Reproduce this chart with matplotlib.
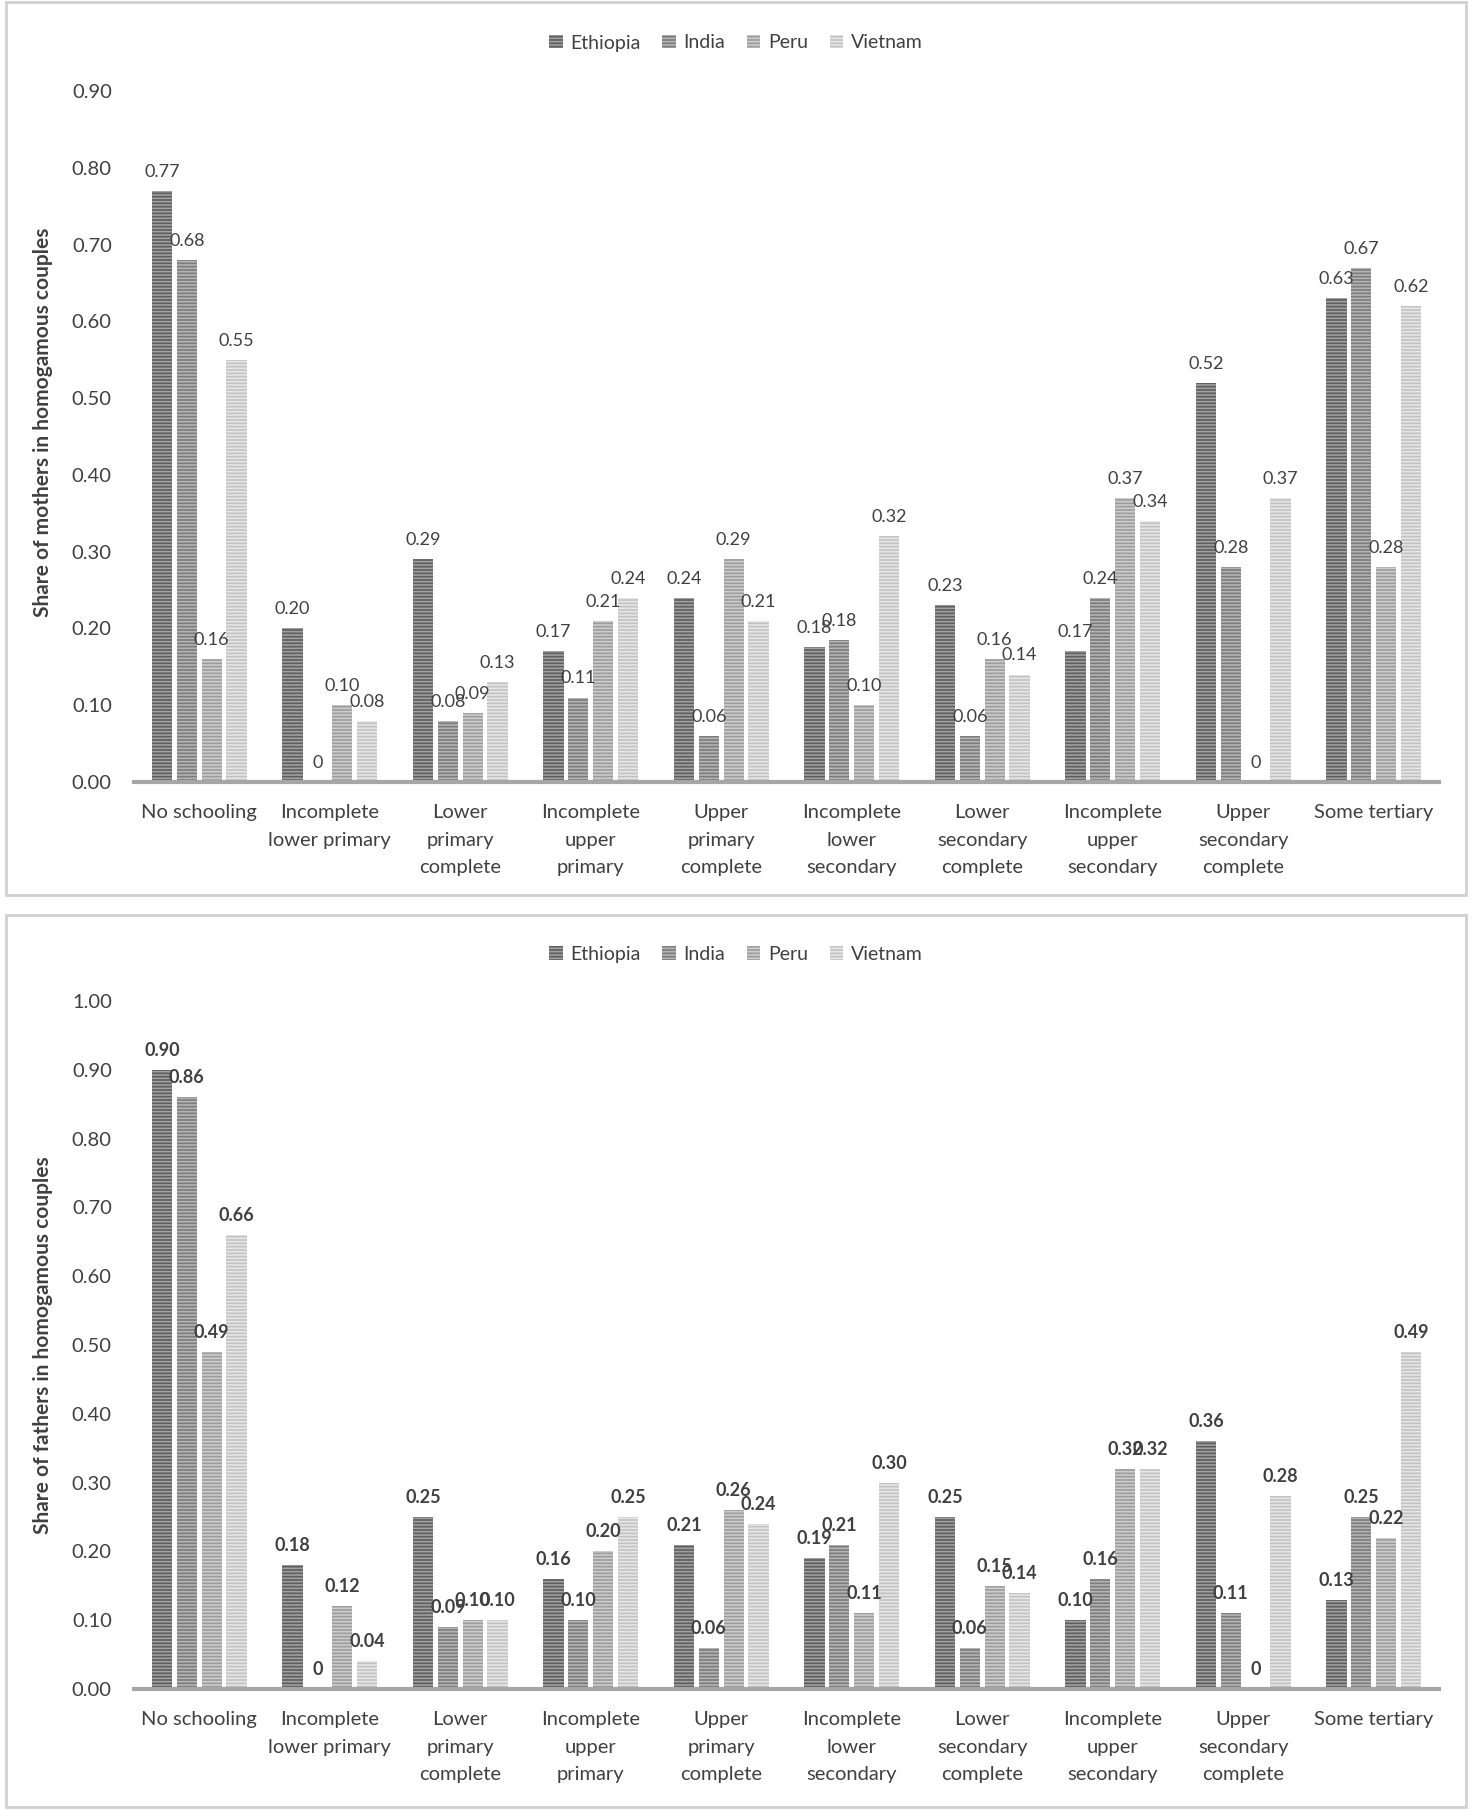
import numpy as np
import matplotlib
matplotlib.use("Agg")
import matplotlib.pyplot as plt
from matplotlib.patches import Rectangle

plt.rcParams["font.family"] = ["Lato", "DejaVu Sans"]
plt.rcParams["hatch.linewidth"] = 1.2

# Categories (education levels)
categories = ["No schooling", "Incomplete\nlower primary", "Lower\nprimary\ncomplete",
              "Incomplete\nupper\nprimary", "Upper\nprimary\ncomplete",
              "Incomplete\nlower\nsecondary", "Lower\nsecondary\ncomplete",
              "Incomplete\nupper\nsecondary", "Upper\nsecondary\ncomplete", "Some tertiary"]
countries = ["Ethiopia", "India", "Peru", "Vietnam"]

# Share of mothers in homogamous couples
mothers_ethiopia = [0.77, 0.20, 0.29, 0.17, 0.24, 0.1752, 0.23, 0.17, 0.52, 0.63]
mothers_india = [0.68, 0.00, 0.08, 0.11, 0.06, 0.1848, 0.06, 0.24, 0.28, 0.67]
mothers_peru = [0.16, 0.10, 0.09, 0.21, 0.29, 0.10, 0.16, 0.37, 0.00, 0.28]
mothers_vietnam = [0.55, 0.08, 0.13, 0.24, 0.21, 0.32, 0.14, 0.34, 0.37, 0.62]

# Share of fathers in homogamous couples
fathers_ethiopia = [0.90, 0.18, 0.25, 0.16, 0.21, 0.19, 0.25, 0.10, 0.36, 0.13]
fathers_india = [0.86, 0.00, 0.09, 0.10, 0.06, 0.21, 0.06, 0.16, 0.11, 0.25]
fathers_peru = [0.49, 0.12, 0.10, 0.20, 0.26, 0.11, 0.15, 0.32, 0.00, 0.22]
fathers_vietnam = [0.66, 0.04, 0.10, 0.25, 0.24, 0.30, 0.14, 0.32, 0.28, 0.49]

face_colors = ["#5e5e5e", "#7c7c7c", "#9c9c9c", "#c2c2c2"]
stripe_colors = ["#a0a0a0", "#b4b4b4", "#cccccc", "#e6e6e6"]
text_color = "#404040"

fig = plt.figure(figsize=(14.72, 18.10), dpi=100)

# panel borders
for y0, h in [(1 - 895 / 1810, 893 / 1810), (1 - 1807 / 1810, 892 / 1810)]:
    fig.add_artist(Rectangle((6 / 1472, y0), 1460 / 1472, h, transform=fig.transFigure,
                             fill=False, edgecolor="#d0d0d0", linewidth=2))


def draw_panel(rect, series, ymax, ylabel, bold_labels, legend_y, ylab_y):
    ax = fig.add_axes(rect)
    x = np.arange(len(categories))
    width = 0.155
    step = 0.19
    for i, (name, vals) in enumerate(zip(countries, series)):
        pos = x + (i - 1.5) * step
        ax.bar(pos, vals, width, color=face_colors[i], edgecolor=stripe_colors[i],
               linewidth=0, hatch="-----", label=name)
        for px, v in zip(pos, vals):
            lab = "0" if v == 0 else f"{v:.2f}"
            ax.text(px, v + ymax * 0.016, lab, ha="center", va="bottom", fontsize=13,
                    color=text_color, fontweight="bold" if bold_labels else "normal")
    ax.set_xlim(-0.5, len(categories) - 0.5)
    ax.set_ylim(0, ymax)
    ticks = np.arange(0, ymax + 0.001, 0.1)
    ax.set_yticks(ticks)
    ax.set_yticklabels([f"{t:.2f}" for t in ticks])
    ax.set_xticks(x)
    ax.set_xticklabels(categories, linespacing=1.75)
    ax.tick_params(axis="both", length=0, labelsize=14.5, labelcolor=text_color)
    ax.tick_params(axis="x", pad=16)
    ax.tick_params(axis="y", pad=16)
    for s in ["top", "right", "left"]:
        ax.spines[s].set_visible(False)
    ax.spines["bottom"].set_color("#a6a6a6")
    ax.spines["bottom"].set_linewidth(3)
    ax.set_ylabel(ylabel, fontsize=15, fontweight="bold", color=text_color)
    ax.yaxis.set_label_coords(-0.062, ylab_y)
    fig.legend(*ax.get_legend_handles_labels(), loc="center", ncol=4,
               bbox_to_anchor=(0.5, legend_y), frameon=False, fontsize=14,
               handlelength=0.7, handleheight=0.7, handletextpad=0.4,
               columnspacing=1.1, labelcolor=text_color)
    return ax


draw_panel([134 / 1472, 1 - 782 / 1810, 1305 / 1472, 691 / 1810],
           [mothers_ethiopia, mothers_india, mothers_peru, mothers_vietnam],
           0.9, "Share of mothers in homogamous couples", False, 1 - 43 / 1810, 0.52)

draw_panel([134 / 1472, 1 - 1689 / 1810, 1305 / 1472, 688 / 1810],
           [fathers_ethiopia, fathers_india, fathers_peru, fathers_vietnam],
           1.0, "Share of fathers in homogamous couples", True, 1 - 954 / 1810, 0.5)

fig.savefig("out.png", dpi=100, facecolor="white")
